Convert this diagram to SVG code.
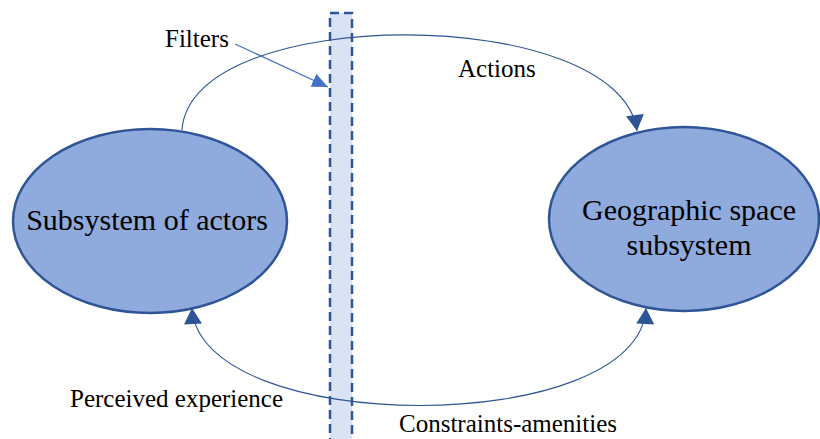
<svg xmlns="http://www.w3.org/2000/svg" width="820" height="439" viewBox="0 0 820 439">
<style>
  .node { fill: #8faadc; stroke: #2f5597; stroke-width: 2.5; }
  .ntext { font-size: 30px; fill: #000; text-anchor: middle; }
  .label { font-size: 25px; fill: #000; }
  .arc { fill: none; stroke: #2f5597; stroke-width: 1.1; }
  .filt { fill: none; stroke: #4472c4; stroke-width: 1.2; }
</style>
<defs>
  <marker id="ah" markerUnits="userSpaceOnUse" markerWidth="18" markerHeight="18" viewBox="0 0 16 18" refX="16" refY="9" orient="auto-start-reverse">
    <path d="M0,0 L16,9 L0,18 z" fill="#2f5597"/>
  </marker>
  <marker id="ahf" markerUnits="userSpaceOnUse" markerWidth="16" markerHeight="14" viewBox="0 0 16 14" refX="16" refY="7" orient="auto">
    <path d="M0,0 L16,7 L0,14 z" fill="#4472c4"/>
  </marker>
</defs>
<rect id="filter-bar" x="330" y="13" width="22" height="440" fill="#dae3f3" stroke="#2f5597" stroke-width="2.5" stroke-dasharray="9,5"/>
<g id="actors" font-family="'Liberation Serif', 'Times New Roman', 'DejaVu Serif', serif">
  <ellipse class="node" cx="150" cy="221" rx="137" ry="92"/>
  <text class="ntext" x="147" y="230">Subsystem of actors</text>
</g>
<g id="geo" font-family="'Liberation Serif', 'Times New Roman', 'DejaVu Serif', serif">
  <ellipse class="node" cx="684" cy="219" rx="135" ry="92"/>
  <text class="ntext" x="689" y="220">Geographic space</text>
  <text class="ntext" x="689" y="255">subsystem</text>
</g>
<g id="connectors">
  <path class="arc" d="M182,130 C190,3 620,3 637,131" marker-end="url(#ah)"/>
  <path class="arc" d="M192,308 C200,438 640,438 646,308" marker-start="url(#ah)" marker-end="url(#ah)"/>
  <path class="filt" d="M235,44 L328,87" marker-end="url(#ahf)"/>
</g>
<g id="labels" font-family="'Liberation Serif', 'Times New Roman', 'DejaVu Serif', serif">
  <text class="label" x="165" y="47">Filters</text>
  <text class="label" x="458" y="77">Actions</text>
  <text class="label" x="70" y="407">Perceived experience</text>
  <text class="label" x="399" y="432">Constraints-amenities</text>
</g>
</svg>
